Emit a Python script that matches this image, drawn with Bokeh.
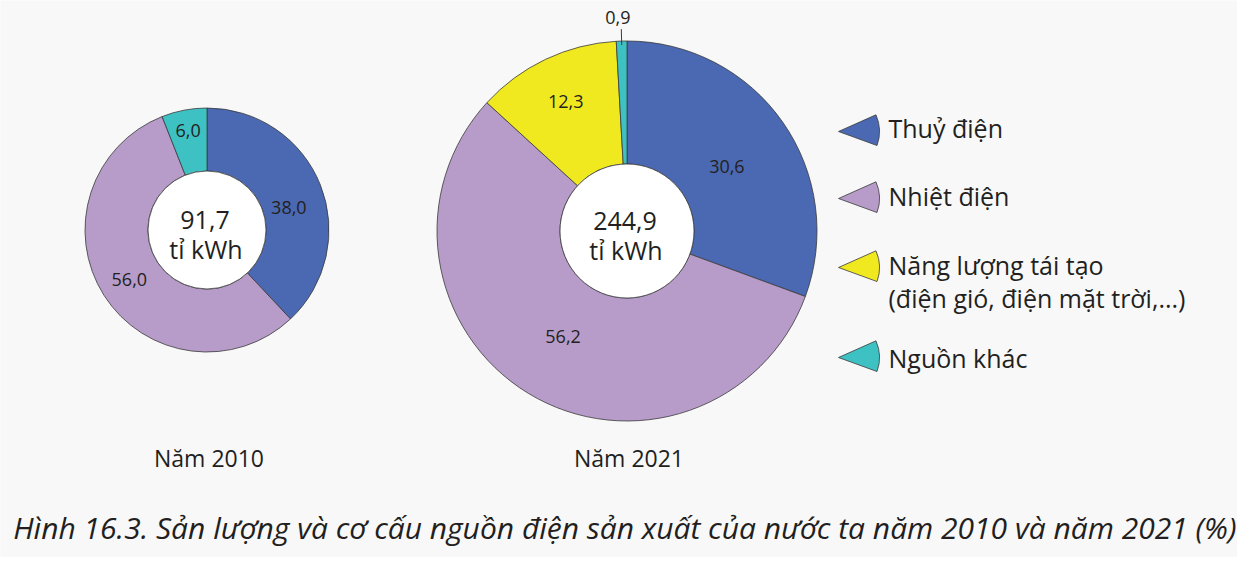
import numpy as np
from bokeh.plotting import figure
from bokeh.models import Range1d, ColumnDataSource
from bokeh.core.properties import value
from bokeh.embed import file_html
from bokeh.resources import INLINE

# ---------------- data ----------------
categories = ["Thuỷ điện", "Nhiệt điện",
              "Năng lượng tái tạo\n(điện gió, điện mặt trời,...)", "Nguồn khác"]
share_2010 = [38.0, 56.0, 0.0, 6.0]
share_2021 = [30.6, 56.2, 12.3, 0.9]
totals = [91.7, 244.9]
total_unit = "tỉ kWh"
years = ["Năm 2010", "Năm 2021"]
caption = "Hình 16.3. Sản lượng và cơ cấu nguồn điện sản xuất của nước ta năm 2010 và năm 2021 (%)"

# ---------------- style / layout ----------------
colors = ["#4a69b2", "#b79cca", "#f1e920", "#3ec1c3"]
edge = "#3a3a3a"
ink = "#231f20"
bg = "#f8f8f8"
FONT = value("Open Sans")

W, H = 1237, 557
def Y(s):  # screen y -> data y
    return 573 - s

donuts = [
    dict(cx=206.5, cy=Y(229.5), R=122, r=59, lab_r=[85, 92, 0, 101],
         lab_da=[-6, 0, 0, 0], outside=[]),
    dict(cx=626.5, cy=Y(230.5), R=190, r=67, lab_r=[119, 123, 143, 0],
         lab_da=[-2, 0, 0, 0], outside=[3]),
]

p = figure(width=W, height=H, x_range=Range1d(0, W), y_range=Range1d(573 - H, 573),
           output_backend="svg", toolbar_location=None, min_border=0,
           x_axis_type=None, y_axis_type=None)
p.grid.visible = False
p.outline_line_color = None
p.background_fill_color = bg
p.border_fill_color = bg

def fmt(v):
    return f"{v:.1f}".replace(".", ",")

for j, vals in enumerate([share_2010, share_2021]):
    d = donuts[j]
    vals = np.array(vals)
    cum = np.concatenate([[0], np.cumsum(vals)])
    start = np.pi / 2 - cum[:-1] / 100 * 2 * np.pi
    end = np.pi / 2 - cum[1:] / 100 * 2 * np.pi
    keep = vals > 0
    src = ColumnDataSource(dict(
        x=[d["cx"]] * int(keep.sum()), y=[d["cy"]] * int(keep.sum()),
        s=start[keep], e=end[keep], c=[colors[i] for i in range(4) if keep[i]]))
    p.annular_wedge(x="x", y="y", inner_radius=d["r"], outer_radius=d["R"],
                    start_angle="s", end_angle="e", direction="clock",
                    fill_color="c", line_color=edge, line_width=0.8, source=src)
    p.circle(x=[d["cx"]], y=[d["cy"]], radius=d["r"], fill_color="white",
             line_color=edge, line_width=0.8)
    # slice labels
    mid = (start + end) / 2
    lx, ly, lt = [], [], []
    for i in range(4):
        if not keep[i]:
            continue
        if i in d["outside"]:
            r0, r1, rt = d["R"] - 4, d["R"] + 12, d["R"] + 24
            p.segment(x0=[d["cx"] + r0 * np.cos(mid[i])], y0=[d["cy"] + r0 * np.sin(mid[i])],
                      x1=[d["cx"] + r1 * np.cos(mid[i])], y1=[d["cy"] + r1 * np.sin(mid[i])],
                      line_color=edge, line_width=1)
            lx.append(d["cx"] + rt * np.cos(mid[i]) - 3)
            ly.append(d["cy"] + rt * np.sin(mid[i]))
        else:
            a = mid[i] + np.deg2rad(d["lab_da"][i])
            lx.append(d["cx"] + d["lab_r"][i] * np.cos(a))
            ly.append(d["cy"] + d["lab_r"][i] * np.sin(a))
        lt.append(fmt(vals[i]))
    p.text(x=lx, y=ly, text=lt, text_font=FONT, text_font_size="18px",
           text_color=ink, text_align="center", text_baseline="middle")
    # centre total
    p.text(x=[d["cx"] - 2, d["cx"] - 1], y=[d["cy"] + 10, d["cy"] - 19],
           text=[fmt(totals[j]), total_unit], text_font=FONT, text_font_size="25px",
           text_color=ink, text_align="center", text_baseline="middle")
    # year
    p.text(x=[d["cx"] + 2], y=[Y(457)], text=[years[j]], text_font=FONT,
           text_font_size="23px", text_color=ink, text_align="center",
           text_baseline="middle")

# ---------------- legend ----------------
tip_x = 838
tip_y = [131, 198, 267, 357]
txt_x = 888
txt_y = [127, 195, 264, 357]
line_gap = 33
p.wedge(x=[tip_x] * 4, y=[Y(t) for t in tip_y], radius=41,
        start_angle=np.deg2rad(-20), end_angle=np.deg2rad(24),
        fill_color=colors, line_color=edge, line_width=0.8)
tx, ty, tt = [], [], []
for i, name in enumerate(categories):
    for k, line in enumerate(name.split("\n")):
        tx.append(txt_x)
        ty.append(Y(txt_y[i] + k * line_gap))
        tt.append(line)
p.text(x=tx, y=ty, text=tt, text_font=FONT, text_font_size="25px",
       text_color=ink, text_align="left", text_baseline="middle")

# ---------------- caption ----------------
p.text(x=[1236], y=[Y(527)], text=[caption], text_font=FONT, text_font_size="30px",
       text_font_style="italic", text_color=ink, text_align="right",
       text_baseline="middle")

open("out.html", "w").write(file_html(p, INLINE))
